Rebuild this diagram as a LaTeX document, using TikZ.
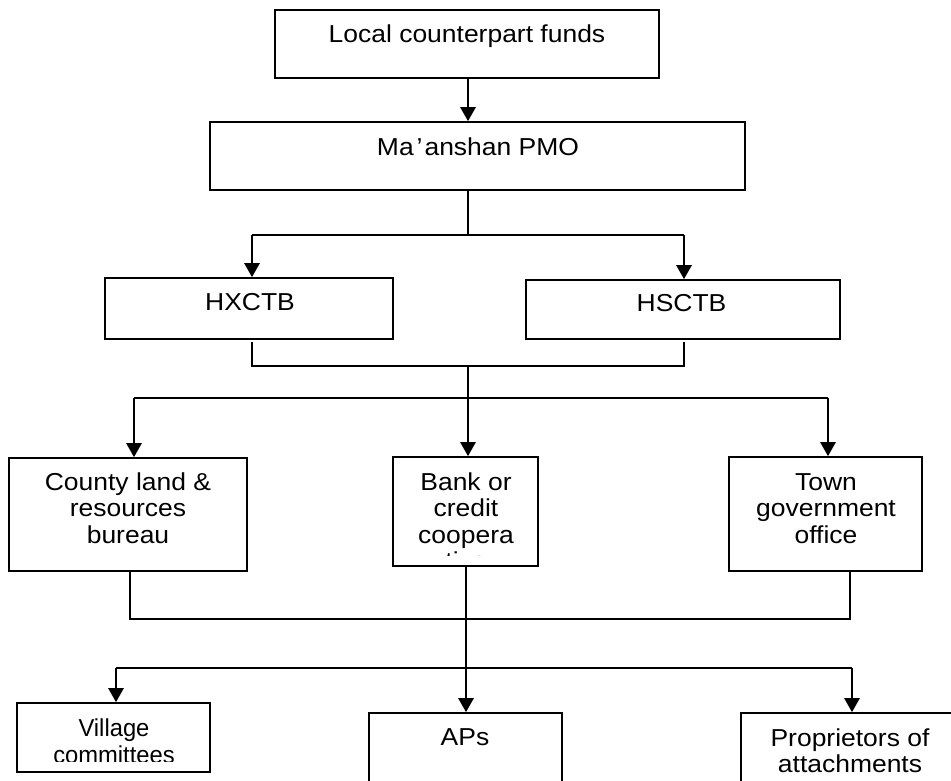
\documentclass[tikz,border=0pt]{standalone}
\usepackage{fontspec}
\setmainfont{Liberation Sans}[FakeStretch=1.08]
\newfontfamily\narrowfont{Liberation Sans}[FakeStretch=0.97]
\usetikzlibrary{arrows.meta}
\begin{document}
\begin{tikzpicture}[x=1pt,y=-1pt,
  box/.style={draw, line width=1.6pt, inner sep=0pt},
  txt/.style={inner sep=0pt, anchor=base, font=\fontsize{24.5}{27}\selectfont},
  ntxt/.style={inner sep=0pt, anchor=base, font=\fontsize{24.5}{27}\narrowfont},
  ln/.style={line width=1.6pt},
  arr/.style={line width=2.6pt, -{Triangle[width=15pt,length=14pt]}}]
\path[use as bounding box] (0,0) rectangle (951,780);
\clip (0,0) rectangle (951,780);
\fill[white] (0,0) rectangle (951,780);

% boxes
\node[box, minimum width=384, minimum height=68] (top) at (467,44) {};
\node[box, minimum width=535, minimum height=68] (pmo) at (477.5,156) {};
\node[box, minimum width=288, minimum height=61] (hx) at (249,308.5) {};
\node[box, minimum width=314, minimum height=59] (hs) at (683,309.5) {};
\node[box, minimum width=238, minimum height=113] (county) at (128,514.5) {};
\node[box, minimum width=145, minimum height=109] (bank) at (465.5,511.5) {};
\node[box, minimum width=193, minimum height=114] (town) at (825.5,514) {};
\node[box, minimum width=193, minimum height=69] (village) at (113.5,737.5) {};
\node[box, minimum width=193, minimum height=90] (aps) at (465.5,758) {};
\node[box, minimum width=219, minimum height=90] (prop) at (850.5,758) {};

% texts
\node[txt] (t1) at (467,42) {Local counterpart funds};
\node[txt] (t2) at (478,155) {Ma\kern3pt’\kern2pt anshan PMO};
\node[txt] (t3) at (250,310) {HXCTB};
\node[txt] (t4) at (681.5,311) {HSCTB};
\node[txt] (t5a) at (128,490) {County land \&};
\node[txt] (t5b) at (128,516.5) {resources};
\node[txt] (t5c) at (128,543) {bureau};
\begin{scope}
\clip (393,457) rectangle (538,555);
\node[txt] (t6a) at (466,490) {Bank or};
\node[txt] (t6b) at (466,516.5) {credit};
\node[txt] (t6c) at (466,543) {coopera};
\node[txt] (t6d) at (466,569.5) {tive};
\end{scope}
\node[txt] (t7a) at (826,490) {Town};
\node[txt] (t7b) at (826,516.5) {government};
\node[txt] (t7c) at (826,543) {office};
\begin{scope}
\clip (17,703) rectangle (210,761.5);
\node[ntxt] (t8a) at (114,736) {Village};
\node[ntxt] (t8b) at (114,763) {committees};
\end{scope}
\node[txt] (t9) at (465,745) {APs};
\node[txt] (t10a) at (850,746) {Proprietors of};
\node[txt] (t10b) at (850,772) {attachments};

% junction coordinates
\coordinate (xC) at (468,0);
\coordinate (xL2) at (252,0);
\coordinate (xR2) at (684,0);
\coordinate (xL3) at (134,0);
\coordinate (xR3) at (828,0);
\coordinate (xL4) at (130,0);
\coordinate (xR4) at (850,0);
\coordinate (xM) at (466,0);
\coordinate (xL5) at (116,0);
\coordinate (xR5) at (852,0);
\coordinate (b1) at (468,235);
\coordinate (b2) at (468,366);
\coordinate (b3) at (468,398);
\coordinate (b4) at (466,619);
\coordinate (b5) at (466,668);
\coordinate (g2) at (0,342);

% connectors
\draw[arr] (xC |- top.south) -- (xC |- pmo.north);
\draw[ln] (xC |- pmo.south) -- (b1);
\draw[ln] (xL2 |- b1) -- (xR2 |- b1);
\draw[arr] (xL2 |- b1) -- (xL2 |- hx.north);
\draw[arr] (xR2 |- b1) -- (xR2 |- hs.north);
\draw[ln] (xL2 |- g2) -- (xL2 |- b2) -- (xR2 |- b2) -- (xR2 |- g2);
\draw[ln] (b2) -- (b3);
\draw[ln] (xL3 |- b3) -- (xR3 |- b3);
\draw[arr] (b3) -- (xC |- bank.north);
\draw[arr] (xL3 |- b3) -- (xL3 |- county.north);
\draw[arr] (xR3 |- b3) -- (xR3 |- town.north);
\draw[ln] (xL4 |- county.south) -- (xL4 |- b4) -- (xR4 |- b4) -- (xR4 |- town.south);
\draw[ln] (xM |- bank.south) -- (b5);
\draw[ln] (xL5 |- b5) -- (xR5 |- b5);
\draw[arr] (b5) -- (xM |- aps.north);
\draw[arr] (xL5 |- b5) -- (xL5 |- village.north);
\draw[arr] (xR5 |- b5) -- (xR5 |- prop.north);
\end{tikzpicture}
\end{document}
